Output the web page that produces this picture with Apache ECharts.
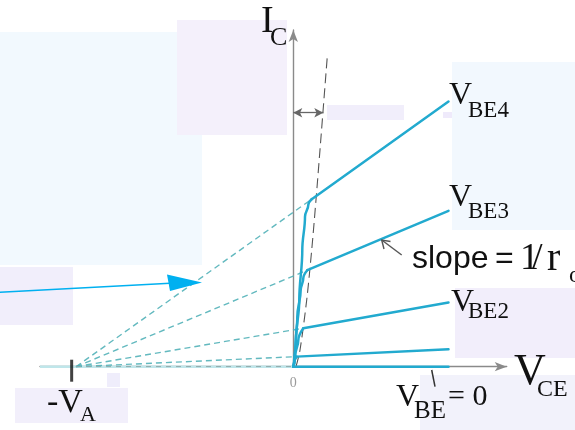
<!DOCTYPE html>
<html>
<head>
<meta charset="utf-8">
<script src="https://cdn.jsdelivr.net/npm/echarts@6/dist/echarts.min.js"></script>
<style>
  html, body { margin: 0; padding: 0; background: #ffffff; }
  #chart { width: 575px; height: 430px; }
</style>
</head>
<body>
<div id="chart"></div>
<script>
// BJT output characteristics I_C vs V_CE with the Early effect.
// V_CE in volts, I_C in arbitrary current units.
const earlyVoltage = -70;            // -V_A, where the extrapolated lines meet
const vceRange = [-81.6, 68.75];
const icRange = [0, 63.5];

// saturation knees of each characteristic (V_CE, I_C)
const kneeVbe4 = [[0, 0], [0.23, 0.64], [0.87, 5.04], [1.93, 12.58], [2.9, 22.0], [3.77, 28.3], [4.83, 30.5], [5.93, 31.6]];
const kneeVbe3 = [[0, 0], [0.64, 3.15], [1.29, 9.43], [2.38, 14.4], [3.22, 16.7], [4.51, 18.2]];
const kneeVbe2 = [[0, 0], [0.55, 1.9], [1.61, 5.0], [3.22, 7.25]];
const kneeVbe1 = [[0, 0], [0.4, 1.0], [1.1, 1.9]];

// active region: straight lines of slope 1/r_o
const activeVbe4 = [[5.93, 31.6], [50, 50]];
const activeVbe3 = [[4.51, 18.2], [50, 29.4]];
const activeVbe2 = [[3.22, 7.25], [50, 12.1]];
const activeVbe1 = [[1.1, 1.9], [50, 3.3]];
const curveVbe0 = [[0, 0], [50, 0]];

// extrapolated active-region lines back to -V_A
const extVbe4 = [[earlyVoltage, 0], [5.93, 31.6]];
const extVbe3 = [[earlyVoltage, 0], [4.51, 18.2]];
const extVbe2 = [[earlyVoltage, 0], [3.22, 7.25]];
const extVbe1 = [[earlyVoltage, 0], [1.1, 1.9]];
const extVbe0 = [[earlyVoltage, 0], [0, 0]];
const axisShade = [[-81.6, 0], [0, 0]];

// saturation / active region boundary
const saturationEdge = [[0.87, 0], [2.16, 3.15], [4.32, 12.58], [5.93, 22.0], [7.31, 31.45], [8.6, 40.89], [10.95, 58.49]];

// width of the saturation region marked by the double arrow
const satWidthLevel = 47.9;
const satWidth = [0, 9.66];

// tick marking -V_A
const vaTick = [[-71.4, 0]];

const xTickLabels = [0];

const solidColor = '#22aacf';
const dashColor = '#52b1b8';
const serif = 'Liberation Serif';
const sans = 'Liberation Sans';

function solid(name, data, smooth) {
  return {
    name, type: 'line', data, symbol: 'none', smooth: smooth || false, smoothMonotone: smooth ? 'y' : undefined,
    lineStyle: { color: solidColor, width: 2.5, cap: 'round', join: 'round' }, z: 5, silent: true
  };
}
function dashed(name, data) {
  return {
    name, type: 'line', data, symbol: 'none',
    lineStyle: { color: dashColor, width: 1.4, type: [6, 4], opacity: 0.9 }, z: 3, silent: true
  };
}

const bg = (x, y, w, h, fill) => ({
  type: 'rect', shape: { x, y, width: w, height: h }, style: { fill }, z: -10, silent: true
});
const txt = (x, y, text, size, font, extra) => ({
  type: 'text', x, y, z: 50, silent: true,
  style: Object.assign({ text, fontSize: size, fontFamily: font, fill: '#111', verticalAlign: 'middle', align: 'left' }, extra || {})
});

const chart = echarts.init(document.getElementById('chart'), null, { renderer: 'canvas' });
chart.setOption({
  animation: false,
  backgroundColor: '#ffffff',
  grid: { left: 40, right: 68.3, top: 30, bottom: 63.3, containLabel: false },
  xAxis: {
    type: 'value', min: vceRange[0], max: vceRange[1],
    axisLine: { onZero: true, symbol: ['none', 'arrow'], symbolSize: [7, 12], lineStyle: { color: '#8a8a8a', width: 1.4 } },
    axisTick: { show: false },
    splitLine: { show: false },
    axisLabel: { customValues: xTickLabels, showMinLabel: false, showMaxLabel: false, color: '#9a9a9a', fontSize: 14, fontFamily: serif, margin: 10, formatter: v => (v === 0 ? '0' : '') }
  },
  yAxis: {
    type: 'value', min: icRange[0], max: icRange[1],
    axisLine: { onZero: true, symbol: ['none', 'arrow'], symbolSize: [7, 12], lineStyle: { color: '#8a8a8a', width: 1.4 } },
    axisTick: { show: false },
    splitLine: { show: false },
    axisLabel: { show: false }
  },
  series: [
    { type: 'line', data: axisShade, symbol: 'none', lineStyle: { color: '#bfe6ea', width: 2.5 }, z: 1, silent: true },
    dashed('ext4', extVbe4), dashed('ext3', extVbe3), dashed('ext2', extVbe2), dashed('ext1', extVbe1),
    Object.assign(dashed('ext0', extVbe0), { lineStyle: { color: '#8fa9aa', width: 1.2, type: [5, 5] } }),
    {
      name: 'saturation', type: 'line', data: saturationEdge, symbol: 'none', smooth: 0.3, z: 4, silent: true,
      lineStyle: { color: '#555', width: 1.1, type: [10, 5] },
      markLine: {
        silent: true, symbol: ['arrow', 'arrow'], symbolSize: [7, 9], label: { show: false },
        lineStyle: { color: '#666', width: 1.3, type: 'solid' },
        data: [[{ coord: [satWidth[0], satWidthLevel] }, { coord: [satWidth[1], satWidthLevel] }]]
      }
    },
    solid('VBE4 knee', kneeVbe4, 0.4), solid('VBE4', activeVbe4),
    solid('VBE3 knee', kneeVbe3, 0.4), solid('VBE3', activeVbe3),
    solid('VBE2 knee', kneeVbe2, 0.4), solid('VBE2', activeVbe2),
    solid('VBE1 knee', kneeVbe1, 0.4), solid('VBE1', activeVbe1),
    solid('VBE0', curveVbe0),
    {
      name: '-VA', type: 'scatter', data: vaTick, symbol: 'rect', symbolSize: [3, 22], symbolOffset: [0, 4],
      clip: false, itemStyle: { color: '#111' }, z: 6, silent: true
    }
  ],
  graphic: [
    // soft background panels
    bg(0, 32, 202, 233, '#f2f9fe'),
    bg(177, 20, 110, 115, '#f4f0fb'),
    bg(0, 267, 73, 58, '#f1eefb'),
    bg(107, 373, 13, 14, '#efedfb'),
    bg(15, 388, 113, 35, '#f2effb'),
    bg(327, 105, 77, 15, '#f1eefb'),
    bg(443, 112, 20, 6, '#efeafb'),
    bg(452, 62, 123, 168, '#f2f8fe'),
    bg(455, 288, 120, 70, '#f2eefb'),
    bg(420, 375, 155, 55, '#f2f2fb'),

    // axis titles
    txt(261, 22.5, 'I', 38, serif),
    txt(270, 38.5, 'C', 26, serif),
    txt(514, 372.5, 'V', 44, serif),
    txt(537, 389.5, 'CE', 24, serif),

    // curve labels
    txt(449, 96, 'V', 32, serif),
    txt(468, 110.5, 'BE4', 23, serif),
    txt(449, 197.5, 'V', 32, serif),
    txt(468, 212, 'BE3', 23, serif),
    txt(451, 302.5, 'V', 32, serif),
    txt(468, 311.5, 'BE2', 23, serif),

    // V_BE = 0 and its leader
    txt(396, 397.5, 'V', 32, serif),
    txt(414, 411.5, 'BE', 25, serif),
    txt(448, 397.5, '= 0', 30, serif),
    { type: 'line', shape: { x1: 431.7, y1: 370, x2: 435, y2: 386.7 }, style: { stroke: '#333', lineWidth: 1.5 }, z: 50, silent: true },

    // -V_A
    txt(47, 403.5, '-V', 34, serif),
    txt(80, 415.5, 'A', 22, serif),

    // slope annotation
    txt(412, 259, 'slope', 32, sans),
    txt(495, 259, '=', 32, sans),
    txt(520, 259.5, '1', 38, serif),
    txt(532, 259.5, '/', 38, serif),
    txt(547, 259.5, 'r', 40, serif),
    txt(569, 276, 'o', 24, serif),
    { type: 'polyline', shape: { points: [[401.7, 255], [381.7, 240]] }, style: { stroke: '#555', lineWidth: 1.4, fill: null }, z: 50, silent: true },
    { type: 'polyline', shape: { points: [[384, 249], [381.7, 240], [390.5, 241.5]] }, style: { stroke: '#555', lineWidth: 1.4, fill: null }, z: 50, silent: true },

    // pointer arrow
    { type: 'line', shape: { x1: 0, y1: 292.3, x2: 170, y2: 283.2 }, style: { stroke: '#00b0f0', lineWidth: 1.5 }, z: 60, silent: true },
    { type: 'polygon', shape: { points: [[167, 274.5], [202, 282.5], [170, 291]] }, style: { fill: '#00b0f0' }, z: 60, silent: true }
  ]
});
</script>
</body>
</html>
